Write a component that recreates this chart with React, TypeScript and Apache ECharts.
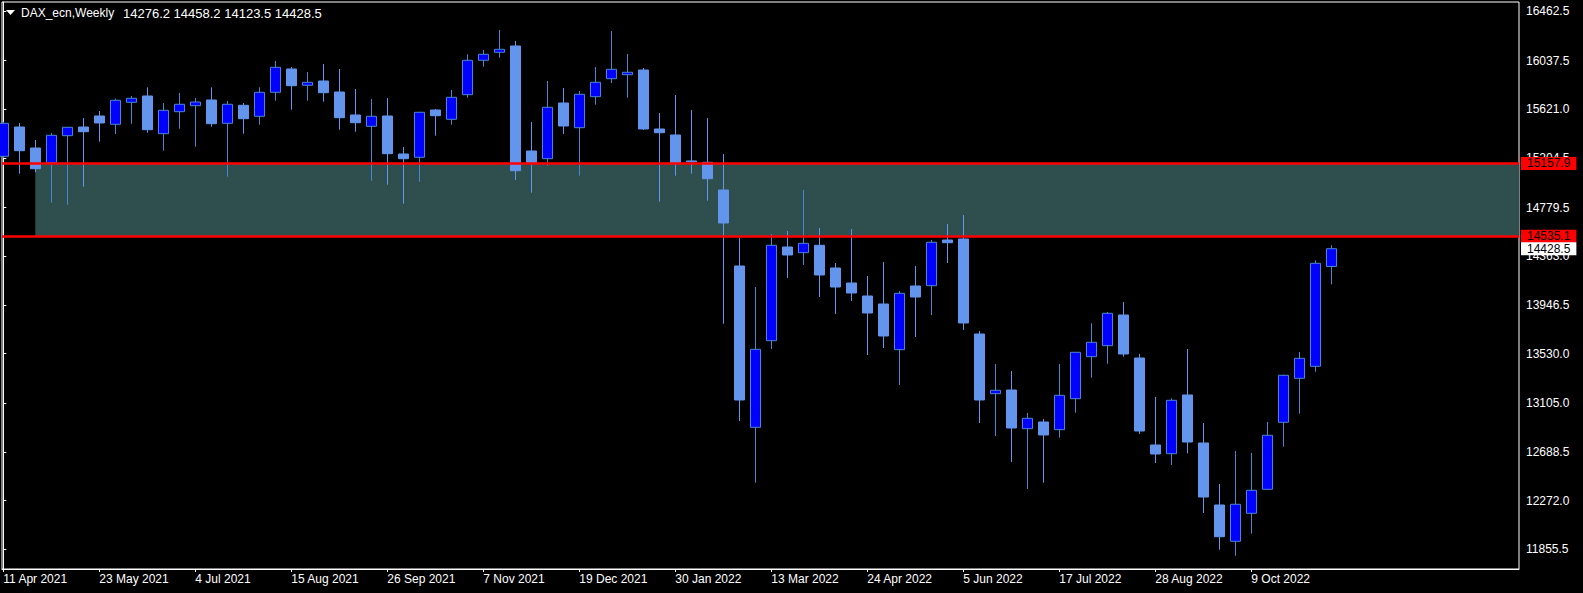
import React, { useEffect, useRef } from 'react';
import * as echarts from 'echarts';

const symbolName = 'DAX_ecn';
const periodName = 'Weekly';

const dateLabels = [
  '11 Apr 2021', '23 May 2021', '4 Jul 2021', '15 Aug 2021', '26 Sep 2021', '7 Nov 2021',
  '19 Dec 2021', '30 Jan 2022', '13 Mar 2022', '24 Apr 2022', '5 Jun 2022', '17 Jul 2022',
  '28 Aug 2022', '9 Oct 2022',
];
const dateLabelBars = [0, 6, 12, 18, 24, 30, 36, 42, 48, 54, 60, 66, 72, 78];

const priceLabels = [
  16462.5, 16037.5, 15621.0, 15204.5, 14779.5, 14363.0, 13946.5, 13530.0, 13105.0, 12688.5, 12272.0, 11855.5,
];

const opens = [
  15219.5, 15470.3, 15290.6, 15165.0, 15395.9, 15470.3, 15564.5, 15493.5, 15681.8, 15735.7,
  15413.0, 15601.3, 15652.7, 15701.5, 15502.0, 15656.1, 15561.9, 15767.4, 15966.8, 15827.3,
  15864.1, 15769.9, 15573.1, 15476.3, 15564.5, 15239.2, 15211.0, 15615.9, 15536.3, 15746.8,
  16041.3, 16109.8, 16163.7, 15264.9, 15199.0, 15675.8, 15464.3, 15729.7, 15883.8, 15918.0,
  15958.3, 15453.2, 15401.9, 15180.0, 15168.0, 14931.1, 14280.5, 12899.8, 13641.1, 14443.1,
  14394.3, 14457.7, 14263.4, 14135.0, 14023.7, 13955.2, 13564.0, 14109.3, 14111.9, 14503.0,
  14511.6, 13698.4, 13187.4, 13219.0, 12887.8, 12945.1, 12879.2, 13144.6, 13504.1, 13598.3,
  13861.0, 13493.0, 12748.3, 12673.8, 13176.3, 12765.4, 12234.7, 11923.9, 12163.6, 12369.0,
  12942.6, 13319.2, 13421.9, 14276.2,
];
const highs = [
  15515.0, 15504.6, 15359.1, 15419.0, 15470.0, 15547.4, 15607.3, 15712.6, 15735.7, 15810.2,
  15675.8, 15761.4, 15718.6, 15810.2, 15692.9, 15675.8, 15810.2, 16035.3, 15983.9, 15941.1,
  16009.6, 15966.8, 15795.6, 15710.0, 15718.6, 15299.1, 15600.0, 15624.4, 15787.1, 16092.7,
  16129.5, 16300.7, 16206.5, 15513.1, 15864.1, 15804.2, 15778.5, 15983.9, 16292.1, 16095.2,
  15975.4, 15590.2, 15744.3, 15615.9, 15547.4, 15239.2, 14522.7, 14100.7, 14554.4, 14580.1,
  14931.1, 14605.8, 14306.2, 14597.2, 14194.9, 14314.7, 14066.5, 14280.5, 14503.0, 14640.0,
  14717.1, 13724.1, 13441.6, 13381.7, 13022.1, 12970.8, 13441.6, 13545.0, 13790.0, 13886.7,
  13972.3, 13527.2, 13159.1, 13148.0, 13570.0, 12936.6, 12414.4, 12696.9, 12679.8, 12945.1,
  13350.0, 13544.3, 14329.3, 14458.2,
];
const lows = [
  15205.0, 15070.6, 15082.6, 14822.3, 14805.2, 14959.3, 15344.5, 15410.4, 15498.6, 15421.5,
  15267.5, 15455.8, 15301.7, 15472.9, 15044.9, 15413.0, 15490.0, 15695.5, 15618.4, 15695.5,
  15687.0, 15447.2, 15430.1, 15010.7, 14976.4, 14813.8, 15002.1, 15395.9, 15490.0, 15721.0,
  15986.5, 16063.5, 15016.7, 14907.9, 15139.1, 15410.4, 15053.5, 15661.2, 15847.0, 15721.0,
  15444.7, 14830.9, 15053.5, 15070.6, 14839.5, 13786.6, 12953.7, 12425.5, 13570.0, 14177.8,
  14289.0, 14015.1, 13869.6, 13980.9, 13518.7, 13578.6, 13261.8, 13672.7, 13861.0, 14306.2,
  13732.7, 12936.6, 12825.3, 12602.8, 12371.6, 12425.5, 12810.7, 13024.7, 13324.3, 13444.2,
  13504.1, 12842.4, 12594.2, 12577.1, 12677.2, 12166.2, 11852.0, 11800.6, 11989.0, 12365.0,
  12733.7, 13016.2, 13375.7, 14123.5,
];
const closes = [
  15502.0, 15267.5, 15113.4, 15399.3, 15467.8, 15430.1, 15504.6, 15698.9, 15716.0, 15447.2,
  15613.3, 15664.7, 15684.3, 15498.6, 15664.7, 15541.4, 15767.4, 15981.4, 15823.9, 15853.0,
  15764.0, 15550.0, 15507.2, 15561.9, 15241.8, 15199.0, 15596.2, 15567.1, 15724.6, 16041.3,
  16092.7, 16135.4, 15096.3, 15160.0, 15639.0, 15478.9, 15750.3, 15853.0, 15964.3, 15938.6,
  15453.2, 15421.5, 15155.0, 15172.0, 15027.8, 14648.6, 13133.5, 13567.4, 14457.7, 14374.7,
  14474.8, 14203.5, 14100.7, 14049.4, 13878.2, 13681.3, 14046.8, 14015.1, 14483.4, 14479.9,
  13792.6, 13133.5, 13216.5, 12893.8, 12976.8, 12833.9, 13173.7, 13541.8, 13627.4, 13875.6,
  13527.2, 12868.0, 12671.2, 13130.9, 12773.9, 12303.1, 11963.2, 12240.7, 12360.5, 12831.3,
  13344.9, 13490.4, 14303.6, 14428.5,
];

const zoneHigh = 15157.9;
const zoneLow = 14535.1;
const zoneStartBar = 2;

const xMin = -0.08125;
const xMax = 94.73125;
const yMin = 11686.8;
const yMax = 16540.3;

const FONT = '"Liberation Sans", Arial, sans-serif';

export default function App() {
  const ref = useRef<HTMLDivElement>(null);

  useEffect(() => {
    if (!ref.current) return;
    const chart = echarts.init(ref.current, undefined, { renderer: 'svg' });
    const last = opens.length - 1;
    const currentPrice = closes[last];
    const ohlcText = `${opens[last].toFixed(1)} ${highs[last].toFixed(1)} ${lows[last].toFixed(1)} ${closes[last].toFixed(1)}`;
    const candleData = opens.map((o, i) => [i, o, closes[i], lows[i], highs[i]]);

    const boxLabel = (bg: string) => ({
      show: true,
      position: 'end',
      distance: 2,
      backgroundColor: bg,
      color: '#000',
      fontSize: 12,
      fontFamily: FONT,
      lineHeight: 13,
      padding: [0, 6, 0, 6],
    });

    chart.setOption({
      animation: false,
      backgroundColor: '#000',
      grid: {
        left: 2,
        top: 2,
        width: 1517,
        height: 567,
        show: true,
        backgroundColor: '#000',
        borderColor: '#ffffff',
        borderWidth: 1,
      },
      xAxis: {
        type: 'value',
        min: xMin,
        max: xMax,
        axisLine: { show: true, lineStyle: { color: '#ffffff', width: 1 } },
        axisTick: {
          show: true,
          length: 3,
          customValues: dateLabelBars,
          lineStyle: { color: '#ffffff' },
        },
        axisLabel: {
          show: true,
          customValues: dateLabelBars,
          formatter: (v: number) => {
            const k = dateLabelBars.indexOf(Math.round(v));
            return k >= 0 ? dateLabels[k] : '';
          },
          align: 'left',
          margin: 4,
          color: '#ffffff',
          fontSize: 12,
          fontFamily: FONT,
        },
        splitLine: { show: false },
      },
      yAxis: {
        type: 'value',
        position: 'right',
        min: yMin,
        max: yMax,
        axisLine: { show: true, lineStyle: { color: '#ffffff', width: 1 } },
        axisTick: {
          show: true,
          length: 3,
          customValues: priceLabels,
          lineStyle: { color: '#ffffff' },
        },
        axisLabel: {
          show: true,
          customValues: priceLabels,
          formatter: (v: number) => v.toFixed(1),
          align: 'left',
          margin: 7,
          color: '#ffffff',
          fontSize: 12,
          fontFamily: FONT,
        },
        splitLine: { show: false },
      },
      graphic: [
        {
          type: 'polygon',
          z: 100,
          shape: { points: [[6, 10], [15, 10], [10.5, 15]] },
          style: { fill: '#ffffff' },
        },
        {
          type: 'text',
          z: 100,
          style: {
            x: 21,
            y: 13,
            text: `${symbolName},${periodName}`,
            fill: '#ffffff',
            font: `12px ${FONT}`,
            verticalAlign: 'middle',
          },
        },
        {
          type: 'text',
          z: 100,
          style: {
            x: 123,
            y: 13,
            text: ohlcText,
            fill: '#ffffff',
            font: `13px ${FONT}`,
            verticalAlign: 'middle',
          },
        },
      ],
      series: [
        {
          type: 'candlestick',
          data: candleData,
          encode: { x: 0, y: [1, 2, 3, 4] },
          barWidth: 10,
          clip: true,
          itemStyle: {
            color: '#0000ff',
            color0: '#6495ed',
            borderColor: '#4a86d0',
            borderColor0: '#6495ed',
            borderWidth: 1,
          },
          markArea: {
            silent: true,
            z: 1,
            itemStyle: { color: '#2f4f4f', opacity: 1 },
            data: [[{ coord: [zoneStartBar, zoneHigh] }, { coord: [xMax, zoneLow] }]],
          },
          markLine: {
            silent: true,
            symbol: ['none', 'none'],
            z: 5,
            data: [
              {
                yAxis: zoneHigh,
                lineStyle: { color: '#ff0000', width: 2.6, type: 'solid' },
                label: { ...boxLabel('#ff0000'), formatter: zoneHigh.toFixed(1) },
              },
              {
                yAxis: zoneLow,
                lineStyle: { color: '#ff0000', width: 2.6, type: 'solid' },
                label: { ...boxLabel('#ff0000'), formatter: zoneLow.toFixed(1) },
              },
              {
                yAxis: currentPrice,
                lineStyle: { color: 'rgba(0,0,0,0)', width: 1, type: 'solid' },
                label: { ...boxLabel('#ffffff'), formatter: currentPrice.toFixed(1) },
              },
            ],
          },
        },
      ],
    });

    return () => chart.dispose();
  }, []);

  return (
    <div
      ref={ref}
      style={{ position: 'fixed', left: 0, top: 0, width: 1583, height: 593, background: '#000' }}
    />
  );
}
